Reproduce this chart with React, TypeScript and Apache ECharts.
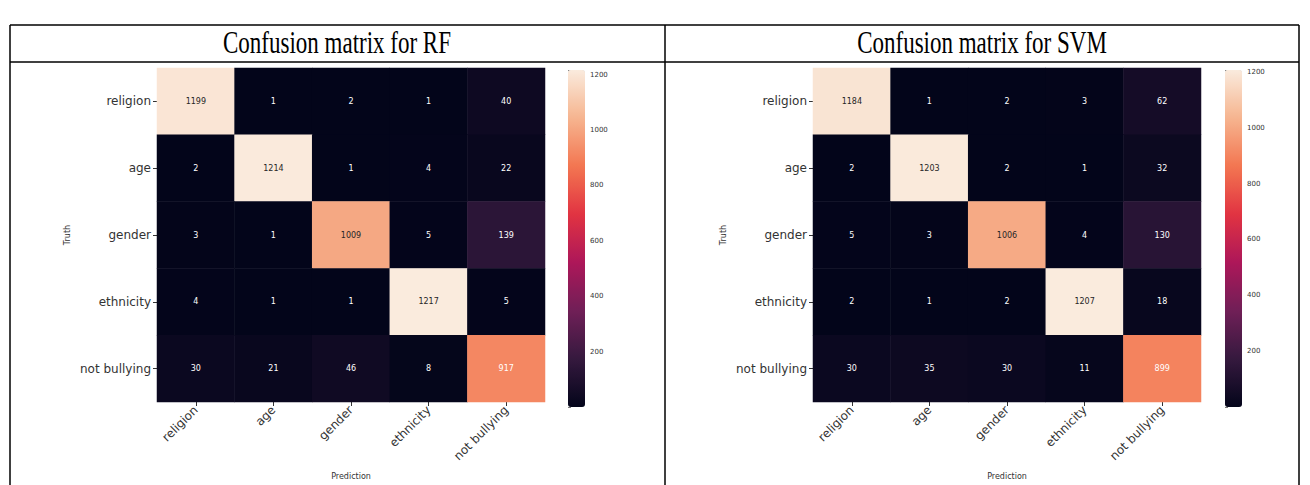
import React, { useEffect, useRef } from "react";
import * as echarts from "echarts";

const classes = ["religion", "age", "gender", "ethnicity", "not bullying"];

const rfMatrix = [
  [1199, 1, 2, 1, 40],
  [2, 1214, 1, 4, 22],
  [3, 1, 1009, 5, 139],
  [4, 1, 1, 1217, 5],
  [30, 21, 46, 8, 917],
];

const svmMatrix = [
  [1184, 1, 2, 3, 62],
  [2, 1203, 2, 1, 32],
  [5, 3, 1006, 4, 130],
  [2, 1, 2, 1207, 18],
  [30, 35, 30, 11, 899],
];

const panelTitles = ["Confusion matrix for RF", "Confusion matrix for SVM"];
const colorbarTicks = [200, 400, 600, 800, 1000, 1200];

const rocket = ["#03051a", "#35193e", "#701f57", "#ad1759", "#e13342", "#f37651", "#f6b48f", "#faebdd"];

function toData(m: number[][], max: number) {
  const out: any[] = [];
  m.forEach((row, r) => {
    row.forEach((v, c) => {
      out.push({
        value: [c, r, v],
        label: { color: v / max > 0.78 ? "#262626" : "#ffffff" },
      });
    });
  });
  return out;
}

function maxOf(m: number[][]) {
  return Math.max(...m.map((r) => Math.max(...r)));
}
function minOf(m: number[][]) {
  return Math.min(...m.map((r) => Math.min(...r)));
}

export default function App() {
  const ref = useRef<HTMLDivElement>(null);
  useEffect(() => {
    document.body.style.margin = "0";
    const chart = echarts.init(ref.current!, null, { renderer: "svg" });
    const mats = [rfMatrix, svmMatrix];
    const panelX = [157, 813];
    const cbX = [568, 1225];
    const top = 68;
    const h = 337;
    const w = 388;
    const font = "DejaVu Sans";

    const grids: any[] = [];
    const xAxes: any[] = [];
    const yAxes: any[] = [];
    const series: any[] = [];
    const visualMaps: any[] = [];

    mats.forEach((m, i) => {
      const mx = maxOf(m);
      const mn = minOf(m);
      grids.push({ left: panelX[i], top, width: w, height: h });
      xAxes.push({
        type: "category",
        data: classes,
        gridIndex: i * 2,
        name: "Prediction",
        nameLocation: "middle",
        nameGap: 70,
        nameTextStyle: { fontSize: 8, color: "#333", fontFamily: font },
        axisLine: { show: false },
        axisTick: { show: true, alignWithLabel: true, length: 4, lineStyle: { color: "#333" } },
        axisLabel: { rotate: 45, fontSize: 12, color: "#333", fontFamily: font, margin: 6 },
        splitArea: { show: false },
      });
      yAxes.push({
        type: "category",
        data: classes,
        inverse: true,
        gridIndex: i * 2,
        name: "Truth",
        nameLocation: "middle",
        nameGap: 86,
        nameRotate: 90,
        nameTextStyle: { fontSize: 8, color: "#333", fontFamily: font },
        axisLine: { show: false },
        axisTick: { show: true, alignWithLabel: true, length: 4, lineStyle: { color: "#333" } },
        axisLabel: { fontSize: 12, color: "#333", fontFamily: font, margin: 6 },
      });
      series.push({
        type: "heatmap",
        xAxisIndex: i * 2,
        yAxisIndex: i * 2,
        data: toData(m, mx),
        label: { show: true, fontSize: 8, fontFamily: font },
        itemStyle: { borderWidth: 0 },
        emphasis: { disabled: true },
      });
      visualMaps.push({
        type: "continuous",
        seriesIndex: i,
        dimension: 2,
        min: mn,
        max: mx,
        calculable: false,
        hoverLink: false,
        realtime: false,
        orient: "vertical",
        left: cbX[i],
        top: top + 2,
        itemWidth: 17,
        itemHeight: h,
        padding: 0,
        text: null,
        showLabel: false,
        inRange: { color: rocket },
      });
      grids.push({ left: cbX[i], top: top + 2, width: 17, height: h });
      xAxes.push({ type: "value", gridIndex: i * 2 + 1, show: false });
      yAxes.push({
        type: "value",
        gridIndex: i * 2 + 1,
        position: "right",
        min: 0,
        max: mx,
        interval: 200,
        splitLine: { show: false },
        axisLine: { show: false },
        axisTick: { show: true, length: 3, lineStyle: { color: "#777" } },
        axisLabel: {
          fontSize: 7,
          color: "#333333",
          fontFamily: font,
          margin: 5,
          formatter: (v: number) => (colorbarTicks.includes(v) ? String(v) : ""),
        },
      });
    });

    const L = 10, R = 1299, M = 665, T = 25, D = 62, B = 485;
    const lineStyle = { stroke: "#000", lineWidth: 1.5 };
    const titleStyle = (text: string) => ({
      text,
      fontSize: 23,
      fontFamily: "Liberation Serif",
      fill: "#000",
      align: "center",
      verticalAlign: "middle",
    });
    const graphic: any[] = [
      { type: "line", shape: { x1: L, y1: T, x2: R, y2: T }, style: lineStyle },
      { type: "line", shape: { x1: L, y1: D, x2: R, y2: D }, style: lineStyle },
      { type: "line", shape: { x1: L, y1: T, x2: L, y2: B }, style: lineStyle },
      { type: "line", shape: { x1: M, y1: T, x2: M, y2: B }, style: lineStyle },
      { type: "line", shape: { x1: R, y1: T, x2: R, y2: B }, style: lineStyle },
      { type: "text", x: 337, y: 43, scaleY: 1.35, style: titleStyle(panelTitles[0]) },
      { type: "text", x: 982, y: 43, scaleY: 1.35, style: titleStyle(panelTitles[1]) },
    ];

    chart.setOption({
      animation: false,
      backgroundColor: "#ffffff",
      grid: grids,
      xAxis: xAxes,
      yAxis: yAxes,
      visualMap: visualMaps,
      series,
      graphic,
    });
    return () => chart.dispose();
  }, []);
  return <div ref={ref} style={{ width: 1310, height: 485 }} />;
}
